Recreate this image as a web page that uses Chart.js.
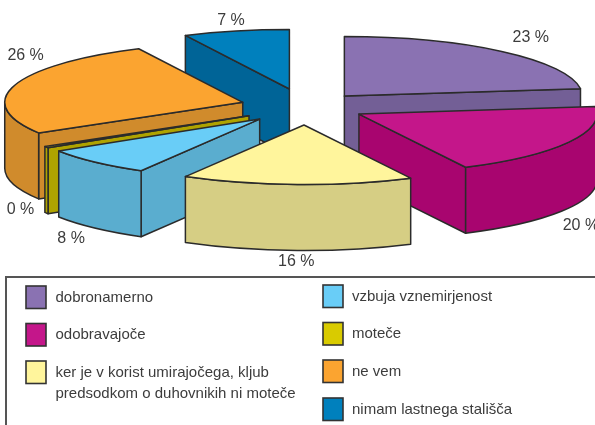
<!DOCTYPE html>
<html><head><meta charset="utf-8">
<style>html,body{margin:0;padding:0;background:#fff;overflow:hidden}canvas{display:block}</style>
<script src="https://cdn.jsdelivr.net/npm/chart.js@4"></script>
</head><body><canvas id="c" width="595" height="425"></canvas>
<script>
const categories = ['dobronamerno','odobravajoče',['ker je v korist umirajočega, kljub','predsodkom o duhovnikih ni moteče'],'vzbuja vznemirjenost','moteče','ne vem','nimam lastnega stališča'];
const values = [23,19.6,15.7,7.7,0.4,26.4,7.2];
const valueLabels = ['23 %','20 %','16 %','8 %','0 %','26 %','7 %'];
const topColors = ['#8A72B2','#C4168A','#FFF59C','#69CDF7','#D9CB00','#FBA430','#0080BD'];
const sideColors = ['#735F96','#A8056F','#D6CE84','#5AADCF','#AFA300','#D08B2C','#006497'];
const explode = [58,60,72,67,67,66,74];
const paintOrder = [6,0,5,4,3,1,2];
const labelShift = [[29,-14],[12,18],[-1,11],[-24,11],[-26,-3],[11,-30],[-5,-10]];
const TILT = 0.25, DEPTH = 66, INK = '#2b2b2b', TEXT = '#3c3c3c', FONT = '"Liberation Sans", Arial, sans-serif';

function geom(el,i){
  const mid=(el.startAngle+el.endAngle)/2, off=explode[i];
  return {x:el.x+off*Math.cos(mid), y:el.y+off*Math.sin(mid)*TILT, rx:el.outerRadius, ry:el.outerRadius*TILT, a0:el.startAngle, a1:el.endAngle, mid};
}
function pt(g,a){return [g.x+g.rx*Math.cos(a), g.y+g.ry*Math.sin(a)];}
function style(ctx,fill){ctx.fillStyle=fill;ctx.strokeStyle=INK;ctx.lineWidth=1.5;ctx.lineJoin='round';ctx.fill();ctx.stroke();}
function radialWall(ctx,g,a,fill){
  const p=pt(g,a);
  ctx.beginPath();ctx.moveTo(g.x,g.y);ctx.lineTo(p[0],p[1]);ctx.lineTo(p[0],p[1]+DEPTH);ctx.lineTo(g.x,g.y+DEPTH);ctx.closePath();
  style(ctx,fill);
}
function drawSlice(ctx,el,i){
  const g=geom(el,i), side=sideColors[i];
  if(Math.sin(g.a0-Math.PI/2)>0.001) radialWall(ctx,g,g.a0,side);
  if(Math.sin(g.a1+Math.PI/2)>0.001) radialWall(ctx,g,g.a1,side);
  const twoPi=Math.PI*2;
  for(let k=-1;k<=1;k++){
    const lo=Math.max(g.a0,k*twoPi), hi=Math.min(g.a1,k*twoPi+Math.PI);
    if(hi>lo){
      ctx.beginPath();
      ctx.ellipse(g.x,g.y,g.rx,g.ry,0,lo,hi);
      ctx.ellipse(g.x,g.y+DEPTH,g.rx,g.ry,0,hi,lo,true);
      ctx.closePath();style(ctx,side);
    }
  }
  ctx.beginPath();ctx.moveTo(g.x,g.y);ctx.ellipse(g.x,g.y,g.rx,g.ry,0,g.a0,g.a1);ctx.closePath();
  style(ctx,topColors[i]);
}
const pie3d={id:'pie3d',
  beforeDatasetsDraw(chart){
    const ctx=chart.ctx, els=chart.getDatasetMeta(0).data;
    ctx.save();
    paintOrder.forEach(i=>drawSlice(ctx,els[i],i));
    ctx.font='16px '+FONT;ctx.fillStyle=TEXT;ctx.textAlign='center';ctx.textBaseline='middle';
    els.forEach((el,i)=>{
      const g=geom(el,i),p=pt(g,g.mid),down=Math.sin(g.mid)>0?DEPTH:0;
      ctx.fillText(valueLabels[i],p[0]+labelShift[i][0],p[1]+down+labelShift[i][1]);
    });
    ctx.restore();
    return false;
  },
  afterDraw(chart){
    const ctx=chart.ctx;
    ctx.save();
    ctx.strokeStyle='#555';ctx.lineWidth=2;
    ctx.beginPath();ctx.moveTo(600,277);ctx.lineTo(6,277);ctx.lineTo(6,430);ctx.stroke();
    const rows=[[26,286],[26,323.5],[26,361],[323,285],[323,322.5],[323,360],[323,398]];
    ctx.font='15px '+FONT;ctx.textBaseline='middle';ctx.textAlign='left';
    rows.forEach(([x,y],i)=>{
      ctx.fillStyle=topColors[i];ctx.strokeStyle='#333';ctx.lineWidth=1.6;
      ctx.fillRect(x,y,20,22.5);ctx.strokeRect(x,y,20,22.5);
      ctx.fillStyle=TEXT;
      const lab=[].concat(chart.data.labels[i]);
      lab.forEach((t,k)=>ctx.fillText(t,x+(i<3?29.5:29),y+(lab.length>1?11.5+k*21:11.5)));
    });
    ctx.restore();
  }
};
new Chart(document.getElementById('c'),{
  type:'pie',
  data:{labels:categories,datasets:[{data:values,backgroundColor:topColors,borderColor:INK}]},
  options:{responsive:false,animation:false,events:[],radius:238,
    layout:{padding:{left:17,bottom:211}},
    plugins:{legend:{display:false},tooltip:{enabled:false}}},
  plugins:[pie3d]
});
</script></body></html>
